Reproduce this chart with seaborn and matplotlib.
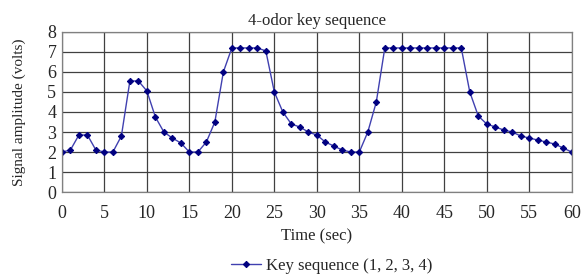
"""4-odor key sequence: signal amplitude over time."""
import matplotlib
matplotlib.use("Agg")
import matplotlib.pyplot as plt
import pandas as pd
import seaborn as sns

sns.set_style("white")
plt.rcParams["font.family"] = ["Liberation Serif", "DejaVu Serif"]
plt.rcParams["font.size"] = 11

time_sec = list(range(61))
amplitude = [
    2.0, 2.1, 2.85, 2.85, 2.1, 2.0, 2.0, 2.8, 5.55, 5.55,
    5.05, 3.75, 3.0, 2.7, 2.45, 2.0, 2.0, 2.5, 3.5, 6.0,
    7.2, 7.2, 7.2, 7.2, 7.05, 5.0, 4.0, 3.4, 3.25, 3.0,
    2.85, 2.5, 2.3, 2.1, 2.0, 2.0, 3.0, 4.5, 7.2, 7.2,
    7.2, 7.2, 7.2, 7.2, 7.2, 7.2, 7.2, 7.2, 5.0, 3.8,
    3.4, 3.25, 3.1, 3.0, 2.8, 2.7, 2.6, 2.5, 2.4, 2.2,
    2.0,
]
series_label = "Key sequence (1, 2, 3, 4)"

df = pd.DataFrame({"Time": time_sec, "Amplitude": amplitude,
                   "Series": series_label})

fig = plt.figure(figsize=(5.84, 2.80), dpi=100)
ax = fig.add_axes([0.106, 0.314, 0.873, 0.572])

sns.lineplot(data=df, x="Time", y="Amplitude", hue="Series",
             palette={series_label: "#4040b0"}, linewidth=1.0,
             marker="D", markersize=3.2, markerfacecolor="#000080",
             markeredgecolor="#000080", ax=ax)

ax.set_xlim(0, 60)
ax.set_ylim(0, 8)
ax.set_xticks(range(0, 61, 5))
ax.set_yticks(range(0, 9))
ax.grid(True, color="#404040", linewidth=0.9)
for spine in ax.spines.values():
    spine.set_color("#808080")
    spine.set_linewidth(0.9)
ax.tick_params(length=3, width=0.8, color="#808080", labelsize=13)
ax.tick_params(axis="x", pad=6)
ax.tick_params(axis="y", pad=1)

ax.set_title("4-odor key sequence", fontsize=12, pad=5)
ax.set_xlabel("Time (sec)", fontsize=12, labelpad=5)
ax.set_ylabel("Signal amplitude (volts)", fontsize=11, labelpad=15)

ax.legend(loc="upper center", bbox_to_anchor=(0.53, -0.32), frameon=False,
          fontsize=12, handlelength=1.8, handletextpad=0.3)

fig.savefig("out.png", dpi=100)
